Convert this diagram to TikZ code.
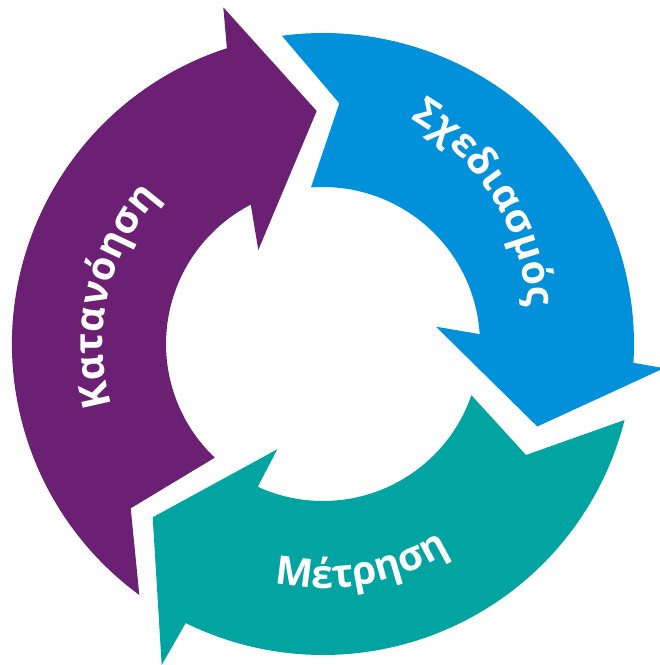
\documentclass[tikz,border=0pt]{standalone}
\usepackage{fontspec}
\setmainfont{Open Sans}
\usetikzlibrary{calc,decorations.text}

\definecolor{katpurple}{RGB}{108,32,116}
\definecolor{sxblue}{RGB}{1,145,218}
\definecolor{mtteal}{RGB}{1,164,160}

\newcommand{\Rin}{157}
\newcommand{\Rout}{311}
\newcommand{\ringfont}{\color{white}\bfseries\fontsize{22.5}{27}\selectfont}

\begin{document}
\begin{tikzpicture}[x=0.02cm, y=0.02cm,
    ringtext/.style={decorate, decoration={text along path, text align=center,
        text={|\ringfont|#1}}}]

    % Picture frame (same size as the reference)
    \useasboundingbox (0,0) rectangle (659,-665);

    % Centre of the ring
    \coordinate (O) at (323,-344);

    % Corner points of the three arrows
    \coordinate (kat-notch) at (130.7,-508.3);
    \coordinate (kat-barbin) at (258.3,-250);
    \coordinate (kat-tip) at (316.7,-111);
    \coordinate (kat-barbout) at (223.3,-7.3);

    \coordinate (sx-notch) at (339.3,-103.3);
    \coordinate (sx-barbin) at (436,-326.7);
    \coordinate (sx-tip) at (537.3,-426.5);
    \coordinate (sx-barbout) at (664,-368.2);

    \coordinate (mt-notch) at (526,-455);
    \coordinate (mt-barbin) at (277.3,-449.3);
    \coordinate (mt-tip) at (152.7,-517.3);
    \coordinate (mt-barbout) at (161.7,-665);

    % --- PURPLE ARROW (left, going up) ---
    \fill[katpurple] ($(O)+(233.8:\Rout)$) -- (kat-notch) -- ($(O)+(226.4:\Rin)$)
        arc[start angle=226.4, end angle=117.4, radius=\Rin]
        -- (kat-barbin) -- (kat-tip) -- (kat-barbout) -- ($(O)+(108:\Rout)$)
        arc[start angle=108, end angle=233.8, radius=\Rout] -- cycle;

    % --- BLUE ARROW (top right, going down) ---
    \fill[sxblue] ($(O)+(97.6:\Rout)$) -- (sx-notch) -- ($(O)+(94.4:\Rin)$)
        arc[start angle=94.4, end angle=3.6, radius=\Rin]
        -- (sx-barbin) -- (sx-tip) -- (sx-barbout) -- ($(O)+(-3.47:\Rout)$)
        arc[start angle=-3.47, end angle=97.6, radius=\Rout] -- cycle;

    % --- TEAL ARROW (bottom, going left) ---
    \fill[mtteal] ($(O)+(-14.15:\Rout)$) -- (mt-notch) -- ($(O)+(-19.03:\Rin)$)
        arc[start angle=-19.03, end angle=-114.55, radius=\Rin]
        -- (mt-barbin) -- (mt-tip) -- (mt-barbout) -- ($(O)+(-116.2:\Rout)$)
        arc[start angle=-116.2, end angle=-14.15, radius=\Rout] -- cycle;

    % Labels bent along the ring
    \path[ringtext={Κατανόηση}] ($(O)+(215:220)$) arc[start angle=215, end angle=119, radius=220];
    \path[ringtext={Σχεδιασμός}] ($(292,-323)+(80:236)$) arc[start angle=80, end angle=-16, radius=236];
    \path[ringtext={Μέτρηση}] ($(O)+(-125:244)$) arc[start angle=-125, end angle=-35, radius=244];

\end{tikzpicture}
\end{document}
